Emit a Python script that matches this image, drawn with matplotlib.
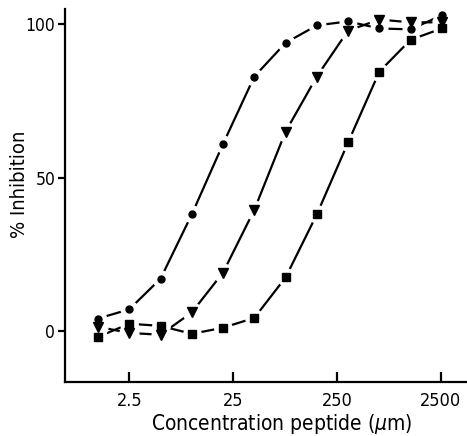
import matplotlib.pyplot as plt

plt.rcParams['font.family'] = 'DejaVu Sans'
plt.rcParams['font.stretch'] = 'condensed'

# Concentrations (doubling dilutions) and % inhibition per peptide
conc = [1.25, 2.5, 5, 10, 20, 40, 80, 160, 320, 640, 1280, 2560]
circles = [4, 7, 17, 38, 61, 83, 94, 99.7, 101, 98.7, 98.4, 103]
triangles = [1.3, -0.7, -1.3, 6, 19, 39.5, 65, 83, 98, 101.6, 100.7, 100.7]
squares = [-2, 2.3, 1.6, -1, 1, 4.2, 17.4, 38, 61.5, 84.6, 95, 98.7]

xticks = [2.5, 25, 250, 2500]
xticklabels = ['2.5', '25', '250', '2500']
yticks = [0, 50, 100]

series = [(circles, 'o', 5), (triangles, 'v', 6.5), (squares, 's', 5.5)]

fig = plt.figure(figsize=(4.67, 4.36), dpi=100)
ax = fig.add_axes([0.139, 0.124, 0.861, 0.855])

# lines first, then white halos to make the gaps, then the markers
for y, m, ms in series:
    ax.plot(conc, y, '-', color='black', lw=1.6, zorder=1)
for y, m, ms in series:
    ax.plot(conc, y, linestyle='none', marker='o', ms=ms + 7,
            mfc='white', mec='white', zorder=2)
for y, m, ms in series:
    ax.plot(conc, y, linestyle='none', marker=m, ms=ms,
            mfc='black', mec='black', zorder=3)

ax.set_xscale('log')
ax.set_xlim(0.6, 4470)
ax.set_ylim(-16.7, 105)
ax.set_xticks(xticks)
ax.set_xticklabels(xticklabels)
ax.minorticks_off()
ax.set_yticks(yticks)

for s in ['top', 'right']:
    ax.spines[s].set_visible(False)
for s in ['left', 'bottom']:
    ax.spines[s].set_linewidth(1.6)

ax.tick_params(axis='x', direction='in', length=7, width=1.6, labelsize=13, pad=7)
ax.tick_params(axis='y', direction='out', length=5, width=1.6, labelsize=12.5, pad=2)

ax.set_xlabel('Concentration peptide ($\\mu$m)', fontsize=15)
ax.xaxis.set_label_coords(0.54, -0.08)
ax.set_ylabel('% Inhibition', fontsize=14.5)
ax.yaxis.set_label_coords(-0.09, 0.53)

fig.savefig('out.png', dpi=100)
